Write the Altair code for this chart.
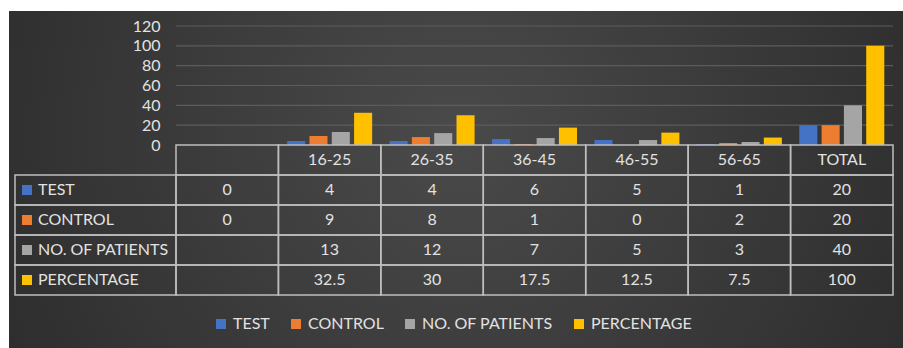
import altair as alt
import pandas as pd

# ---- data ----
categories = [" ", "16-25", "26-35", "36-45", "46-55", "56-65", "TOTAL"]
series = ["TEST", "CONTROL", "NO. OF PATIENTS", "PERCENTAGE"]
test = [0, 4, 4, 6, 5, 1, 20]
control = [0, 9, 8, 1, 0, 2, 20]
patients = [None, 13, 12, 7, 5, 3, 40]
percentage = [None, 32.5, 30, 17.5, 12.5, 7.5, 100]
y_ticks = [0, 20, 40, 60, 80, 100, 120]
colors = ["#4472C4", "#ED7D31", "#A5A5A5", "#FFC000"]

values = {"TEST": test, "CONTROL": control, "NO. OF PATIENTS": patients, "PERCENTAGE": percentage}
rows = ["HEADER"] + series

recs = []
for s in series:
    for c, v in zip(categories, values[s]):
        recs.append({"cat": c, "series": s, "row": s, "value": v,
                     "label": "" if v is None else f"{v:g}"})
long_df = pd.DataFrame(recs)
bars_df = long_df.dropna(subset=["value"])
header_df = pd.DataFrame({"cat": categories, "row": "HEADER", "label": [c.strip() for c in categories]})
cells_df = pd.DataFrame([{"cat": c, "row": r} for r in rows for c in categories])
rowlab_df = pd.DataFrame({"row": series, "series": series})
grid_df = pd.DataFrame({"tick": y_ticks[1:]})
one = pd.DataFrame({"k": [0]})

W, H = 717, 119
FONT = "Lato"
TXT = "#e2e2e2"
LINE = "#bfbfbf"

xscale = alt.Scale(domain=categories, paddingInner=0, paddingOuter=0)
yval = alt.Scale(domain=[0, 120], nice=False)
ytab = alt.Scale(domain=rows, range=[119, 269], paddingInner=0, paddingOuter=0)
cscale = alt.Scale(domain=series, range=colors)

bg = alt.Chart(one).mark_rect(
    fill=alt.Gradient(gradient="radial", x1=0.5, y1=0.45, r1=0, x2=0.5, y2=0.45, r2=0.75,
                      stops=[alt.GradientStop(color="#4a4a4a", offset=0),
                             alt.GradientStop(color="#242424", offset=1)])
).encode(x=alt.value(-167), x2=alt.value(727), y=alt.value(-15), y2=alt.value(322))

grid = alt.Chart(grid_df).mark_rule(color="#5c5c5c", strokeWidth=1.2).encode(
    y=alt.Y("tick:Q", scale=yval, axis=None)
)

bars = alt.Chart(bars_df).mark_bar().encode(
    x=alt.X("cat:N", scale=xscale, sort=categories, axis=None),
    xOffset=alt.XOffset("series:N", sort=series,
                        scale=alt.Scale(domain=series, paddingInner=0.19, paddingOuter=0.39)),
    y=alt.Y("value:Q", scale=yval,
            axis=alt.Axis(values=y_ticks, title=None, grid=False, ticks=False, domain=False,
                          labelColor=TXT, labelFont=FONT, labelFontSize=16, labelPadding=16,
                          zindex=1)),
    color=alt.Color("series:N", scale=cscale, sort=series,
                    legend=alt.Legend(title=None, orient="none", direction="horizontal",
                                      legendX=37, legendY=290, symbolType="square",
                                      symbolSize=100, symbolStrokeWidth=0, labelColor=TXT,
                                      labelFont=FONT, labelFontSize=16, columnPadding=18,
                                      labelOffset=4, padding=0)),
)

cells = alt.Chart(cells_df).mark_rect(fill="transparent", stroke=LINE, strokeWidth=1.5).encode(
    x=alt.X("cat:N", scale=xscale, sort=categories, axis=None),
    y=alt.Y("row:N", scale=ytab, sort=rows, axis=None),
)

labcells = alt.Chart(rowlab_df).mark_rect(fill="transparent", stroke=LINE, strokeWidth=1.5).encode(
    x=alt.value(-161), x2=alt.value(0),
    y=alt.Y("row:N", scale=ytab, sort=rows, axis=None),
)

vals = alt.Chart(long_df).mark_text(font=FONT, fontSize=16, color=TXT, baseline="middle").encode(
    x=alt.X("cat:N", scale=xscale, sort=categories, axis=None),
    y=alt.Y("row:N", scale=ytab, sort=rows, axis=None),
    text="label:N",
)

heads = alt.Chart(header_df).mark_text(font=FONT, fontSize=16, color=TXT, baseline="middle").encode(
    x=alt.X("cat:N", scale=xscale, sort=categories, axis=None),
    y=alt.Y("row:N", scale=ytab, sort=rows, axis=None),
    text="label:N",
)

squares = alt.Chart(rowlab_df).mark_square(size=100, opacity=1).encode(
    x=alt.value(-149),
    y=alt.Y("row:N", scale=ytab, sort=rows, axis=None),
    color=alt.Color("series:N", scale=cscale, sort=series, legend=None),
)

labtext = alt.Chart(rowlab_df).mark_text(font=FONT, fontSize=16, color=TXT, align="left",
                                         baseline="middle").encode(
    x=alt.value(-138),
    y=alt.Y("row:N", scale=ytab, sort=rows, axis=None),
    text="row:N",
)

chart = alt.layer(bg, grid, bars, cells, labcells, vals, heads, squares, labtext).resolve_scale(
    y="independent"
).properties(
    width=W, height=H,
    autosize=alt.AutoSizeParams(type="none"),
    padding={"left": 176, "top": 26, "right": 10, "bottom": 203},
).configure(background="#ffffff").configure_view(stroke=None)

chart.save("out.html", embed_options={"renderer": "svg", "actions": False})
